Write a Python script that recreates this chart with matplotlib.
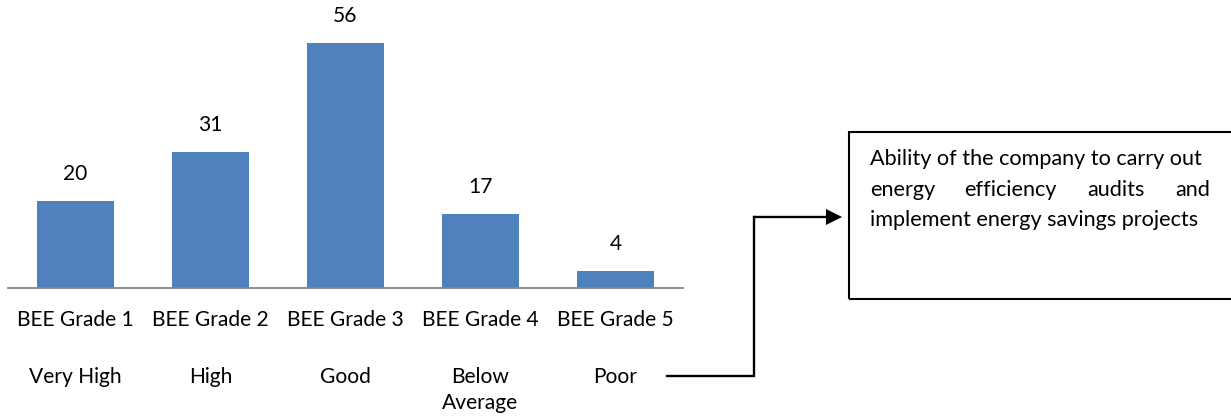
import matplotlib.pyplot as plt
from matplotlib.patches import Rectangle, FancyArrowPatch
from matplotlib.lines import Line2D

# data
grades = ["BEE Grade 1", "BEE Grade 2", "BEE Grade 3", "BEE Grade 4", "BEE Grade 5"]
ratings = ["Very High", "High", "Good", "Below\nAverage", "Poor"]
counts = [20, 31, 56, 17, 4]
box_lines = ["Ability of the company to carry out",
             "energy efficiency audits and",
             "implement energy savings projects"]

W, H = 1231, 417
plt.rcParams['font.family'] = ['Lato', 'DejaVu Sans']

fig = plt.figure(figsize=(W / 100, H / 100), dpi=100)
renderer = fig.canvas.get_renderer()


def fx(x):
    return x / W


def fy(y):
    return 1 - y / H


def fit_size(s, target_px):
    # font size so that string s is target_px wide
    t = fig.text(0, 0, s, fontsize=10)
    w = t.get_window_extent(renderer).width
    t.remove()
    return 10 * target_px / w


FS = fit_size("BEE Grade 1", 117)
FS_BOX = (fit_size(box_lines[0], 340) + fit_size(box_lines[2], 323)) / 2

# bar axes: baseline at y=288 px, x from 8 to 683 px, 4.375 px per unit
ymax = 60
ax = fig.add_axes([fx(8), fy(288), (683 - 8) / W, ymax * 4.375 / H])
x = range(len(counts))
ax.bar(x, counts, width=0.565, color="#4F81BD")
ax.set_xlim(-0.5, len(counts) - 0.5)
ax.set_ylim(0, ymax)
for s in ["top", "right", "left"]:
    ax.spines[s].set_visible(False)
ax.spines["bottom"].set_color("#868686")
ax.spines["bottom"].set_linewidth(1.3)
ax.set_xticks([])
ax.set_yticks([])
ax.patch.set_alpha(0)

pt = 100 / 72  # px per point
for i, v in enumerate(counts):
    ax.annotate(str(v), (i, v), xytext=(0, 27 / pt), textcoords="offset points",
                ha="center", va="center", fontsize=FS)
    ax.annotate(grades[i], (i, 0), xytext=(0, -32 / pt), textcoords="offset points",
                ha="center", va="center", fontsize=FS)
    ax.annotate(ratings[i], (i, 0), xytext=(0, -79 / pt), textcoords="offset points",
                ha="center", va="top", fontsize=FS, linespacing=1.38)

# text box on the right
box = Rectangle((fx(849), fy(299)), (1245 - 849) / W, (299 - 132) / H,
                transform=fig.transFigure, fill=False, edgecolor="black", lw=1.5)
fig.add_artist(box)

base_y = [165, 196, 226]
fig.text(fx(870), fy(base_y[0]), box_lines[0], ha="left", va="baseline", fontsize=FS_BOX)
words = box_lines[1].split()
word_x = [870, 964, 1087, 1210]
for w, wx in zip(words, word_x):
    fig.text(fx(wx), fy(base_y[1]), w, ha="right" if w == words[-1] else "left",
             va="baseline", fontsize=FS_BOX)
fig.text(fx(870), fy(base_y[2]), box_lines[2], ha="left", va="baseline", fontsize=FS_BOX)

# connector arrow from "Poor" to the box
fig.add_artist(Line2D([fx(667), fx(754), fx(754)],
                      [fy(376), fy(376), fy(217)],
                      transform=fig.transFigure, color="black", lw=1.7,
                      solid_joinstyle="miter", solid_capstyle="projecting"))
arr = FancyArrowPatch((fx(754), fy(217)), (fx(842), fy(217)),
                      transform=fig.transFigure, arrowstyle="-|>",
                      mutation_scale=22, color="black", lw=1.7,
                      shrinkA=0, shrinkB=0, joinstyle="miter")
fig.add_artist(arr)

fig.savefig("out.png", dpi=100)
